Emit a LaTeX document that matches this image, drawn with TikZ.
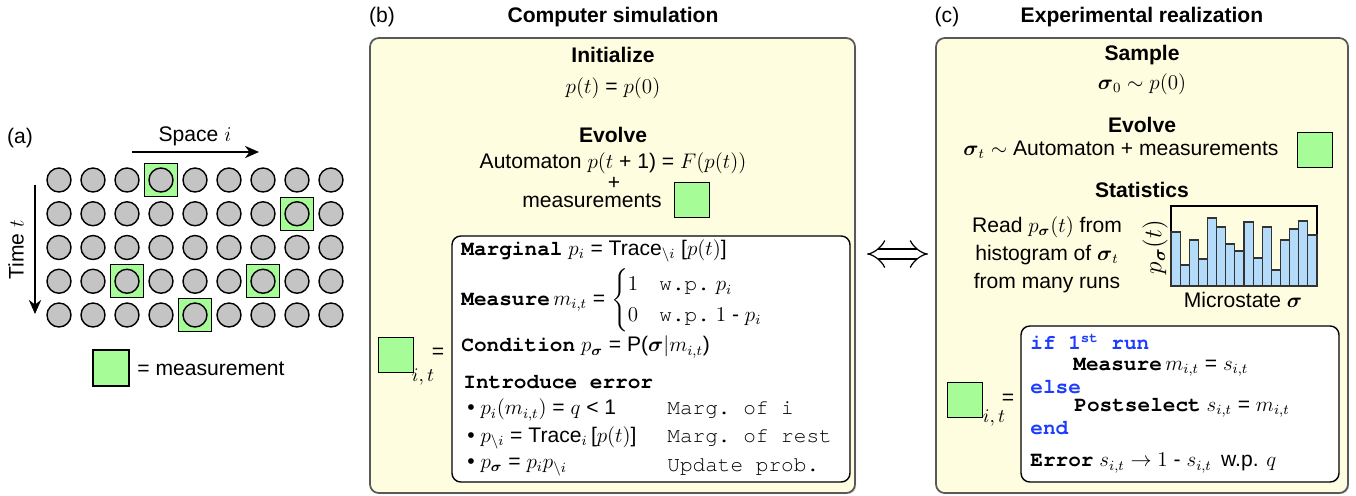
\documentclass[12pt,tikz,border=0pt]{standalone}
\usepackage{fontspec}
\setmainfont{Liberation Sans}
\setmonofont{texgyrecursor}[Extension=.otf, UprightFont=*-regular, BoldFont=*-bold,
  ItalicFont=*-italic, BoldItalicFont=*-bolditalic]
\usepackage{amsmath}
\usetikzlibrary{arrows.meta,shadows,fit}

\definecolor{measgreen}{RGB}{166,252,150}
\definecolor{panelfill}{RGB}{255,253,224}
\definecolor{cellgray}{RGB}{196,196,196}
\definecolor{barblue}{RGB}{180,220,250}
\definecolor{kwblue}{RGB}{30,60,255}

\tikzset{
  panel/.style={draw=black!65, line width=1pt, fill=panelfill, rounded corners=5pt,
    drop shadow={shadow xshift=0.7pt, shadow yshift=-0.7pt, opacity=0.35}, inner sep=0pt},
  codebox/.style={draw=black, line width=0.8pt, fill=white, rounded corners=5pt, inner sep=0pt},
  meas/.style={draw=black, line width=0.8pt, fill=measgreen, minimum size=0.7cm, inner sep=0pt},
  cell/.style={circle, draw=black, line width=0.8pt, fill=cellgray, minimum size=0.48cm, inner sep=0pt},
  head/.style={font=\bfseries},
  txt/.style={anchor=west, inner sep=0pt},
  axis/.style={-{Stealth[length=8pt,width=7pt]}, line width=0.8pt},
  bar/.style={draw=black!80, line width=0.6pt, fill=barblue},
}
\newcommand{\bsig}{\boldsymbol{\sigma}}

\begin{document}
\begin{tikzpicture}[x=0.02cm, y=-0.02cm]
    \useasboundingbox (0,0) rectangle (1356,495);

    % (a) space-time lattice
    \node (albl) at (20,138) {(a)};
    \node (space) at (195,136) {Space $i$};
    \coordinate (sx0) at (132,152);
    \coordinate (sx1) at (259,152);
    \draw[axis] (sx0) -- (sx1);
    \node[rotate=90] (time) at (16,250) {Time $t$};
    \coordinate (ty0) at (35,185);
    \coordinate (ty1) at (35,314);
    \draw[axis] (ty0) -- (ty1);

    \foreach \r/\c in {1/4,2/8,4/3,4/7,5/5}
      \node[meas, minimum size=0.66cm] (m-\r-\c) at (25+34*\c,146.25+33.75*\r) {};
    \foreach \r in {1,...,5}
      \foreach \c in {1,...,9}
        \node[cell] (c-\r-\c) at (25+34*\c,146.25+33.75*\r) {};

    \node[meas, minimum size=0.72cm] (legsq) at (111,368) {};
    \node[txt] (legtxt) at (137,369) {= measurement};

    % (b) computer simulation
    \node (blbl) at (382,17) {(b)};
    \node[head] (simtitle) at (613,17) {Computer simulation};
    \node[panel, fit={(370,38) (855,493)}] (simbox) {};
    \node[head] (init) at (613,55) {Initialize};
    \node (initeq) at (613,88) {$p(t)$ = $p(0)$};
    \node[head] (evolve) at (613,135) {Evolve};
    \node (autom) at (613,163) {Automaton $p(t$ + 1) = $F(p(t))$};
    \node[inner sep=0pt] (plus) at (614,183) {+};
    \node[inner sep=0pt] (meastxt) at (592,201) {measurements};
    \node[meas] (msq) at (692,200) {};

    \node[codebox, fit={(452,236) (850,482)}] (simcode) {};
    \node[meas] (simsq) at (396,355) {};
    \node (simsub) at (423,377) {\small$i,t$};
    \node (simeq) at (438,353) {=};

    \node[txt] (marg) at (461,251) {\texttt{\textbf{Marginal}} $p_i$ = Trace$_{\backslash i}$\ [$p(t)$]};
    \node[txt] (measure) at (461,300) {\texttt{\textbf{Measure}}$\,m_{i,t}$ = $\begin{cases} 1 & \texttt{w.p.}~p_i\\ 0 & \texttt{w.p.}~1\text{ - }p_i \end{cases}$};
    \node[txt] (cond) at (461,347) {\texttt{\textbf{Condition}} $p_{\bsig}$ = P($\bsig|m_{i,t}$)};
    \node[txt] (intro) at (463,382) {\texttt{\textbf{Introduce error}}};
    \node[txt] (err1) at (467,410) {\textbullet\ $p_i(m_{i,t})$ = $q$ < 1};
    \node[txt] (err2) at (467,438) {\textbullet\ $p_{\backslash i}$ = Trace$_i$\,[$p(t)$]};
    \node[txt] (err3) at (467,467) {\textbullet\ $p_{\bsig}$ = $p_ip_{\backslash i}$};
    \node[txt] (com1) at (667,410) {\texttt{Marg. of i}};
    \node[txt] (com2) at (667,438) {\texttt{Marg. of rest}};
    \node[txt] (com3) at (667,467) {\texttt{Update prob.}};

    % equivalence
    \coordinate (eqL) at (867,254);
    \coordinate (eqR) at (928,254);
    \draw[double, double distance=5pt, line width=0.7pt, {Implies}-{Implies}] (eqL) -- (eqR);

    % (c) experimental realization
    \node (clbl) at (947,17) {(c)};
    \node[head] (exptitle) at (1142,17) {Experimental realization};
    \node[panel, fit={(936,38) (1348,493)}] (expbox) {};
    \node[head] (sample) at (1142,55) {Sample};
    \node (sampeq) at (1142,84) {$\bsig_0 \sim p(0)$};
    \node[head] (evolve2) at (1142,125) {Evolve};
    \node (autom2) at (1121,150) {$\bsig_t \sim$ Automaton + measurements};
    \node[meas] (msq2) at (1315,150) {};
    \node[head] (stats) at (1142,190) {Statistics};
    \node[align=center] (read) at (1047,255) {Read $p_{\bsig}(t)$ from\\[1.5pt] histogram of $\bsig_t$\\[1.5pt] from many runs};

    % histogram
    \node[draw=black, line width=0.6pt, fit={(1171,206) (1317,286)}, inner sep=0pt] (hist) {};
    \foreach \h [count=\k from 0] in {232,265,240,259,218,227,244,251,222,258,227,270,240,229,221,235}
      \draw[bar] (1171+9.125*\k,286) rectangle (1180.125+9.125*\k,\h);
    \node[rotate=90] (ylab) at (1155,247) {\large$p_{\bsig}(t)$};
    \node (xlab) at (1243,300) {Microstate $\bsig$};

    \node[codebox, fit={(1021,326) (1339,482)}] (expcode) {};
    \node[meas] (expsq) at (965,400) {};
    \node (expsub) at (994,418) {\small$i,t$};
    \node (expeq) at (1008,399) {=};

    \node[txt, text=kwblue] (if1) at (1030,342) {\texttt{\textbf{if 1\textsuperscript{st} run}}};
    \node[txt] (meas2) at (1073,367) {\texttt{\textbf{Measure}}$\,m_{i,t}$ = $s_{i,t}$};
    \node[txt, text=kwblue] (else1) at (1030,387) {\texttt{\textbf{else}}};
    \node[txt] (post) at (1074,408) {\texttt{\textbf{Postselect}} $s_{i,t}$ = $m_{i,t}$};
    \node[txt, text=kwblue] (end1) at (1030,428) {\texttt{\textbf{end}}};
    \node[txt] (error) at (1030,463) {\texttt{\textbf{Error}} $s_{i,t} \rightarrow 1$ - $s_{i,t}$\, w.p. $q$};

\end{tikzpicture}
\end{document}
